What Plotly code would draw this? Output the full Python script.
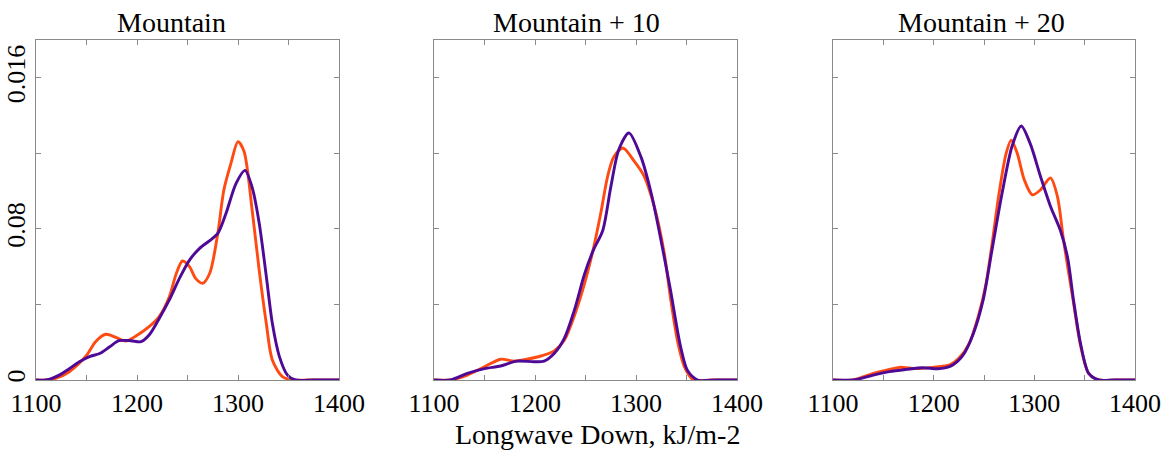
import plotly.graph_objects as go

# ---------------- data ----------------
panel_titles = ["Mountain", "Mountain + 10", "Mountain + 20"]
x_title = "Longwave Down, kJ/m-2"

x_tick_vals = [1100, 1150, 1200, 1250, 1300, 1350, 1400]
x_tick_text = ["1100", "", "1200", "", "1300", "", "1400"]
y_tick_vals = [0, 0.004, 0.008, 0.012, 0.016]
y_tick_text = ["0", "", "0.08", "", "0.016"]

# Panel 1: Mountain
m0_orange_x = [1100, 1110, 1120, 1133, 1150, 1159, 1169, 1179, 1189, 1199, 1212, 1222, 1232, 1239,
               1245, 1252, 1258, 1265, 1272, 1280, 1286, 1293, 1300, 1306, 1314, 1321, 1328, 1334,
               1344, 1354, 1370, 1400]
m0_orange_y = [0, 0, 0.0001, 0.00044, 0.0013, 0.00203, 0.00242, 0.00226, 0.00206, 0.00233, 0.00282,
               0.00335, 0.0044, 0.00565, 0.0063, 0.006, 0.00538, 0.00512, 0.00565, 0.00776, 0.01006,
               0.01147, 0.01262, 0.0121, 0.009, 0.0058, 0.003, 0.00106, 0.00018, 0, 0, 0]
m0_purple_x = [1100, 1110, 1123, 1133, 1143, 1153, 1163, 1173, 1182, 1194, 1204, 1212, 1222, 1232,
               1242, 1252, 1262, 1272, 1280, 1288, 1298, 1307, 1314, 1321, 1328, 1334, 1341, 1349,
               1357, 1375, 1400]
m0_purple_y = [0, 0, 0.00026, 0.0006, 0.00097, 0.00124, 0.0014, 0.00176, 0.00208, 0.00208, 0.00203,
               0.00238, 0.00326, 0.00424, 0.00538, 0.00635, 0.00697, 0.00738, 0.00776, 0.0088, 0.0104,
               0.0111, 0.0102, 0.0083, 0.0055, 0.003, 0.00124, 0.00026, 0, 0, 0]

# Panel 2: Mountain + 10
m10_orange_x = [1100, 1116, 1133, 1150, 1166, 1179, 1192, 1206, 1219, 1229, 1239, 1249, 1258, 1265,
                1272, 1278, 1287, 1298, 1308, 1318, 1328, 1334, 1341, 1348, 1357, 1375, 1400]
m10_orange_y = [0, 0, 0.00026, 0.0007, 0.0011, 0.001, 0.0011, 0.00127, 0.00154, 0.0021, 0.0034,
                0.0051, 0.007, 0.0088, 0.0108, 0.0118, 0.01228, 0.0116, 0.0108, 0.0092, 0.0067,
                0.0044, 0.0021, 0.0007, 0, 0, 0]
m10_purple_x = [1100, 1116, 1133, 1150, 1166, 1182, 1199, 1209, 1219, 1229, 1239, 1249, 1258, 1267,
                1275, 1283, 1293, 1305, 1315, 1324, 1334, 1344, 1351, 1361, 1380, 1400]
m10_purple_y = [0, 0, 0.00035, 0.0006, 0.00074, 0.001, 0.00097, 0.001, 0.0014, 0.0022, 0.0037,
                0.0056, 0.0069, 0.0079, 0.0102, 0.0122, 0.01308, 0.0118, 0.0099, 0.0076, 0.0048,
                0.0018, 0.0005, 0, 0, 0]

# Panel 3: Mountain + 20
m20_orange_x = [1100, 1120, 1140, 1156, 1166, 1182, 1199, 1216, 1225, 1235, 1245, 1252, 1258, 1265,
                1272, 1277, 1283, 1290, 1298, 1306, 1316, 1323, 1329, 1338, 1346, 1354, 1364, 1380, 1400]
m20_orange_y = [0, 0, 0.00035, 0.00056, 0.00067, 0.0006, 0.00067, 0.0008, 0.00115, 0.0019, 0.0035,
                0.0051, 0.0072, 0.0099, 0.012, 0.0127, 0.012, 0.0106, 0.0098, 0.01006, 0.0107,
                0.0097, 0.0074, 0.0044, 0.0018, 0.00035, 0, 0, 0]
m20_purple_x = [1100, 1120, 1140, 1156, 1173, 1189, 1206, 1219, 1229, 1239, 1249, 1258, 1268, 1278,
                1287, 1296, 1306, 1316, 1326, 1333, 1339, 1346, 1354, 1364, 1380, 1400]
m20_purple_y = [0, 0, 0.00026, 0.00044, 0.00056, 0.00065, 0.0006, 0.0008, 0.0013, 0.0024, 0.0042,
                0.0069, 0.0099, 0.0124, 0.01345, 0.0125, 0.0108, 0.0092, 0.0079, 0.0065, 0.0042,
                0.0019, 0.00035, 0, 0, 0]

series = [
    (m0_orange_x, m0_orange_y, m0_purple_x, m0_purple_y),
    (m10_orange_x, m10_orange_y, m10_purple_x, m10_purple_y),
    (m20_orange_x, m20_orange_y, m20_purple_x, m20_purple_y),
]

# ---------------- styling ----------------
W, H = 1168, 450
ML, MR, MT, MB = 36, 33, 40, 70
plot_w = W - ML - MR
panel_px = [(36, 339), (434, 737), (833, 1135)]
domains = [((a - ML) / plot_w, (b - ML) / plot_w) for a, b in panel_px]
title_px = [171, 576, 981]

ORANGE = "#FF4A12"
PURPLE = "#4E0A96"
FRAME = "#8a8a8a"
FONT = "Liberation Serif"

fig = go.Figure()
for i, (ox, oy, px, py) in enumerate(series):
    xa = "x" if i == 0 else f"x{i+1}"
    ya = "y" if i == 0 else f"y{i+1}"
    fig.add_trace(go.Scatter(x=ox, y=oy, mode="lines", xaxis=xa, yaxis=ya,
                             line=dict(color=ORANGE, width=2.9, shape="spline", smoothing=0.8),
                             showlegend=False, hoverinfo="skip"))
    fig.add_trace(go.Scatter(x=px, y=py, mode="lines", xaxis=xa, yaxis=ya,
                             line=dict(color=PURPLE, width=2.9, shape="spline", smoothing=0.8),
                             showlegend=False, hoverinfo="skip"))

layout = dict(
    width=W, height=H,
    margin=dict(l=ML, r=MR, t=MT, b=MB, pad=0, autoexpand=False),
    paper_bgcolor="white", plot_bgcolor="white",
    font=dict(family=FONT, size=26, color="black"),
    annotations=[],
)
for i in range(3):
    xk = "xaxis" if i == 0 else f"xaxis{i+1}"
    yk = "yaxis" if i == 0 else f"yaxis{i+1}"
    ya = "y" if i == 0 else f"y{i+1}"
    xa = "x" if i == 0 else f"x{i+1}"
    layout[xk] = dict(
        domain=list(domains[i]), anchor=ya, range=[1100, 1400],
        tickmode="array", tickvals=x_tick_vals, ticktext=x_tick_text,
        ticks="inside", ticklen=5, tickcolor=FRAME, tickwidth=1,
        showline=True, linecolor=FRAME, linewidth=1.2, mirror="ticks",
        showgrid=False, zeroline=False, automargin=False,
        tickfont=dict(family=FONT, size=26, color="black"),
    )
    layout[yk] = dict(
        domain=[0, 1], anchor=xa, range=[0, 0.018],
        tickmode="array", tickvals=y_tick_vals,
        ticktext=y_tick_text if i == 0 else [""] * len(y_tick_vals),
        showticklabels=(i == 0), tickangle=-90,
        ticks="inside", ticklen=5, tickcolor=FRAME, tickwidth=1,
        showline=True, linecolor=FRAME, linewidth=1.2, mirror="ticks",
        showgrid=False, zeroline=False, automargin=False,
        tickfont=dict(family=FONT, size=26, color="black"),
    )
    layout["annotations"].append(dict(
        text=panel_titles[i], xref="paper", yref="paper",
        x=(title_px[i] - ML) / plot_w, y=1.0, xanchor="center", yanchor="bottom",
        showarrow=False, font=dict(family=FONT, size=28, color="black"),
    ))

layout["annotations"].append(dict(
    text=x_title, xref="paper", yref="paper",
    x=(597 - ML) / plot_w, y=(380 - 452) / 340, xanchor="center", yanchor="bottom",
    showarrow=False, font=dict(family=FONT, size=28, color="black"),
))

fig.update_layout(**layout)
fig.write_html("out.html")
